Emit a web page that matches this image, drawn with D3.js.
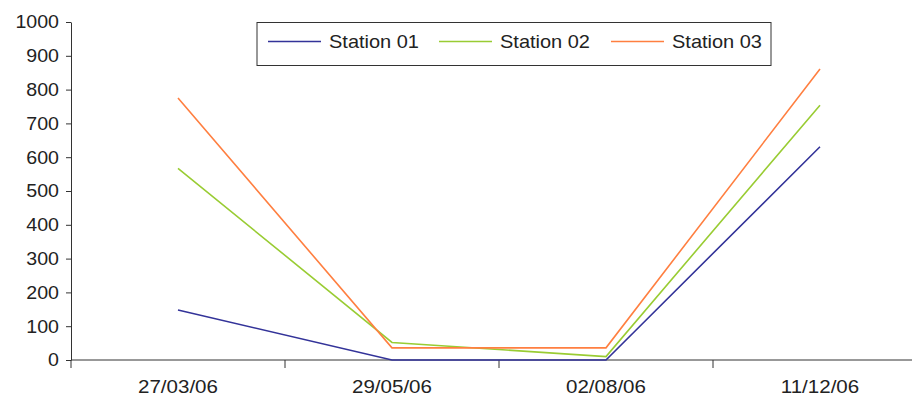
<!DOCTYPE html>
<html>
<head>
<meta charset="utf-8">
<script src="https://cdn.jsdelivr.net/npm/d3@7"></script>
<style>
  html, body { margin: 0; padding: 0; background: #fff; }
  svg { display: block; }
  text { font-family: "Liberation Sans", Arial, sans-serif; fill: #222; }
</style>
</head>
<body>
<svg id="chart" width="912" height="396"></svg>
<script>
// Sampling dates and readings per station
const dates = ["27/03/06", "29/05/06", "02/08/06", "11/12/06"];
const station01 = [148, 0, 0, 631];
const station02 = [567, 52, 10, 754];
const station03 = [775, 36, 36, 861];
const yTicks = [0, 100, 200, 300, 400, 500, 600, 700, 800, 900, 1000];

const series = [
  { name: "Station 01", values: station01, color: "#333399" },
  { name: "Station 02", values: station02, color: "#99cc33" },
  { name: "Station 03", values: station03, color: "#ff7f40" }
];

const svg = d3.select("#chart");
const plotLeft = 71, plotRight = 927, plotTop = 22, plotBottom = 360;
const fontSize = "18.5px";

const x = d3.scaleBand().domain(dates).range([plotLeft, plotRight]);
const y = d3.scaleLinear().domain([0, 1000]).range([plotBottom, plotTop]);

// Slightly widened glyphs, as in the original rendering
function widen(sel, k) {
  sel.each(function () {
    const w = this.getComputedTextLength();
    d3.select(this).attr("textLength", w * k).attr("lengthAdjust", "spacingAndGlyphs");
  });
}

// Y axis
const yAxis = svg.append("g")
  .attr("transform", `translate(${plotLeft},0)`)
  .call(d3.axisLeft(y).tickValues(yTicks).tickFormat(d3.format("d"))
    .tickSize(5).tickSizeOuter(0).tickPadding(7));
yAxis.select(".domain").attr("stroke", "#333");
yAxis.selectAll(".tick line").attr("stroke", "#333");
yAxis.selectAll("text").attr("font-size", fontSize).style("fill", "#222")
  .attr("font-family", "Liberation Sans, Arial, sans-serif")
  .call(widen, 1.06);

// X axis line and category boundary ticks
const xAxis = svg.append("g").attr("transform", `translate(0,${plotBottom})`);
xAxis.append("line").attr("x1", plotLeft).attr("x2", plotRight).attr("stroke", "#333");
const bounds = dates.map(d => x(d)).concat([x(dates[dates.length - 1]) + x.bandwidth()]);
xAxis.selectAll("line.b").data(bounds).join("line")
  .attr("class", "b")
  .attr("x1", d => d).attr("x2", d => d)
  .attr("y1", 0).attr("y2", 8)
  .attr("stroke", "#333");
xAxis.selectAll("text.lbl").data(dates).join("text")
  .attr("class", "lbl")
  .attr("x", d => x(d) + x.bandwidth() / 2)
  .attr("y", 33)
  .attr("text-anchor", "middle")
  .attr("font-size", fontSize)
  .text(d => d)
  .call(widen, 1.11);

// Series lines
const line = d3.line()
  .x((v, i) => x(dates[i]) + x.bandwidth() / 2)
  .y(v => y(v));

svg.append("g").selectAll("path").data(series).join("path")
  .attr("d", s => line(s.values))
  .attr("fill", "none")
  .attr("stroke", s => s.color)
  .attr("stroke-width", 1.6);

// Legend
const legend = svg.append("g");
legend.append("rect")
  .attr("x", 257).attr("y", 22.5).attr("width", 514).attr("height", 43)
  .attr("fill", "#fff").attr("stroke", "#333").attr("stroke-width", 1);
const legendX = [268, 439, 611];
const items = legend.selectAll("g.item").data(series).join("g")
  .attr("class", "item")
  .attr("transform", (s, i) => `translate(${legendX[i]},41.5)`);
items.append("line").attr("x1", 0).attr("x2", 53)
  .attr("stroke", s => s.color).attr("stroke-width", 1.6);
items.append("text").attr("x", 61).attr("y", 6.5)
  .attr("font-size", fontSize).text(s => s.name)
  .call(widen, 1.08);
</script>
</body>
</html>
